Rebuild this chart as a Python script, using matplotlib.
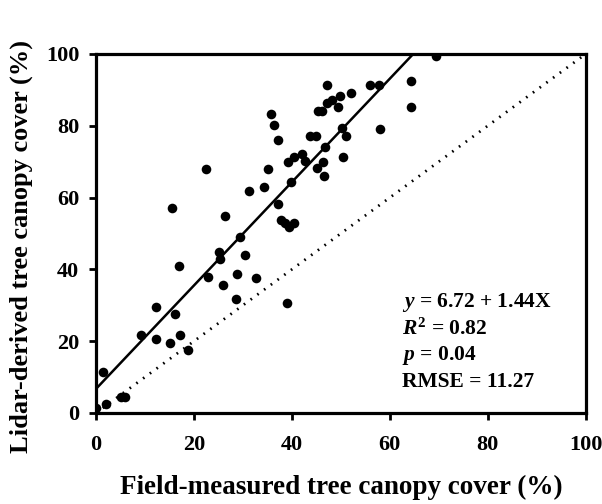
import numpy as np
import matplotlib
matplotlib.use("Agg")
import matplotlib.pyplot as plt

plt.rcParams['font.family'] = 'Liberation Serif'
plt.rcParams['font.weight'] = 'bold'
plt.rcParams['mathtext.fontset'] = 'custom'
plt.rcParams['mathtext.rm'] = 'Liberation Serif:bold'
plt.rcParams['mathtext.it'] = 'Liberation Serif:italic:bold'
plt.rcParams['mathtext.bf'] = 'Liberation Serif:bold'

# field-measured (x) vs lidar-derived (y) canopy cover
field = [0.0, 1.5, 2.0, 5.2, 5.9, 9.2, 12.2, 12.2, 15.2, 16.2, 17.0, 17.2,
         18.8, 22.9, 25.1, 25.3, 26.0, 29.4, 28.7, 28.6, 30.5, 32.7, 38.9,
         15.6, 22.5, 26.3, 31.2, 34.3, 35.2, 35.8, 36.4, 37.1, 37.1,
         37.7, 38.6, 39.4, 40.4, 39.3, 39.9, 40.5, 42.0, 42.7, 43.7, 45.0,
         45.2, 46.4, 46.5, 46.7, 45.4, 46.2, 47.2, 47.2, 48.2, 49.5, 49.9,
         50.3, 51.0, 50.5, 52.0, 55.9, 57.8, 64.3, 64.4, 58.0, 69.5]
lidar = [1.5, 11.5, 2.6, 4.5, 4.5, 21.6, 29.6, 20.6, 19.6, 27.6, 40.8, 21.6,
         17.6, 37.8, 44.9, 42.8, 35.7, 48.9, 38.8, 31.8, 43.9, 37.7, 30.7,
         57.0, 68.0, 55.0, 61.9, 63.0, 68.0, 83.3, 80.1, 76.1, 58.1,
         53.8, 53.0, 51.9, 53.0, 70.0, 64.2, 71.2, 72.1, 70.3, 77.2, 77.2,
         68.1, 70.0, 66.0, 74.2, 84.2, 84.2, 91.4, 86.4, 87.2, 85.2, 88.3,
         79.3, 77.2, 71.2, 89.2, 91.4, 91.4, 92.4, 85.2, 79.2, 99.4]

intercept = 6.72
slope = 1.44
stats = [r'$y$ = 6.72 + 1.44X', r'$R^2$ = 0.82', r'$p$ = 0.04', 'RMSE = 11.27']

fig = plt.figure(figsize=(6.02, 5.04), dpi=100)
ax = fig.add_axes([0.1595, 0.1806, 0.8135, 0.7124])

ax.scatter(field, lidar, s=48, c='black', zorder=3, linewidths=0)
xfit = np.array([0, (100 - intercept) / slope])
ax.plot(xfit, intercept + slope * xfit, color='black', lw=1.8)
ax.plot([0, 100], [0, 100], color='black', lw=2, ls=(0, (0.6, 2.4)))

ax.set_xlim(0, 100)
ax.set_ylim(0, 100)
ax.set_xticks(range(0, 101, 20))
ax.set_yticks(range(0, 101, 20))
for s in ax.spines.values():
    s.set_linewidth(2.3)
ax.tick_params(direction='out', length=5, width=2, labelsize=16)
ax.tick_params(axis='x', pad=11)
ax.tick_params(axis='y', pad=7)

ax.set_xlabel('Field-measured tree canopy cover (%)', fontsize=19.5,
              fontweight='bold', labelpad=14)
ax.set_ylabel('Lidar-derived tree canopy cover (%)', fontsize=19,
              fontweight='bold')
ax.yaxis.set_label_coords(-0.128, 0.465)

for i, t in enumerate(stats):
    ax.text(0.625, 0.308 - i * 0.074, t, transform=ax.transAxes,
            fontsize=15.5, fontweight='bold', va='center', ha='left')

fig.savefig('out.png', dpi=100)
